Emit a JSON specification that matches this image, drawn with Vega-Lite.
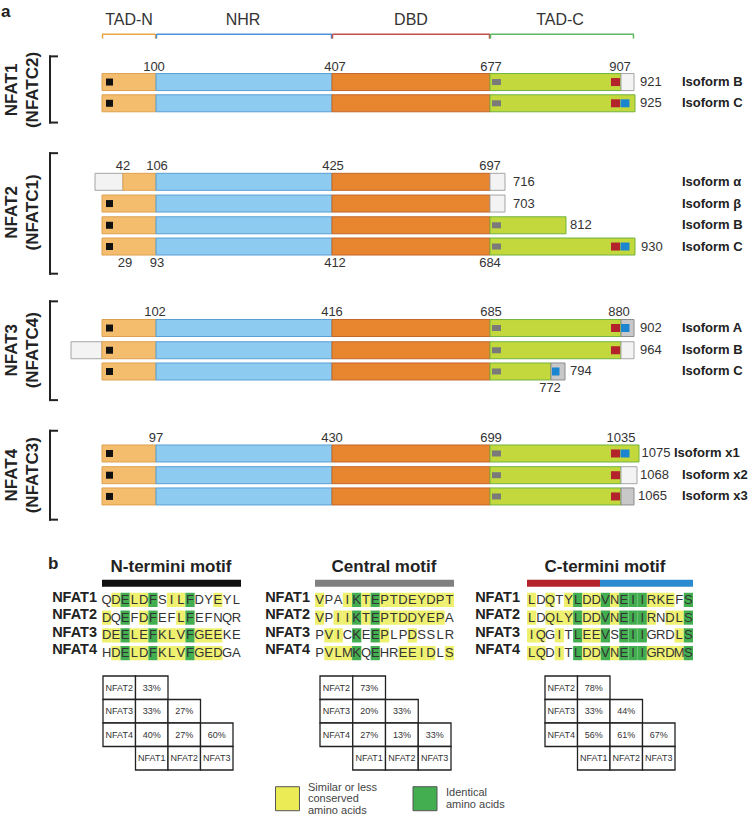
{
"$schema": "https://vega.github.io/schema/vega-lite/v6.json",
"width": 750, "height": 821, "padding": 0, "autosize": {"type": "none"},
"background": "white",
"config": {"view": {"stroke": null}, "axis": {"disable": true}, "legend": {"disable": true}, "text": {"font": "Liberation Sans, Arial, sans-serif", "color": "#222"}},
"datasets": {
"hdr": [{"t":"TAD-N","x":129,"y":15},{"t":"NHR","x":243,"y":15},{"t":"DBD","x":411,"y":15},{"t":"TAD-C","x":560,"y":15}],
"hline": [{"x":102,"xe":155.5,"y":29.5,"c":"o"},{"x":156.5,"xe":332,"y":29.5,"c":"b"},{"x":332.5,"xe":490,"y":29.5,"c":"r"},{"x":490.5,"xe":634,"y":29.5,"c":"g"}],
"htick": [{"x":102.5,"y":29.5,"ye":34,"c":"o"},{"x":155.5,"y":29.5,"ye":34,"c":"o"},{"x":156.5,"y":29.5,"ye":34,"c":"b"},{"x":331.5,"y":29.5,"ye":34,"c":"b"},{"x":332.5,"y":29.5,"ye":34,"c":"r"},{"x":489.5,"y":29.5,"ye":34,"c":"r"},{"x":490.5,"y":29.5,"ye":34,"c":"g"},{"x":633.5,"y":29.5,"ye":34,"c":"g"}],
"segs": [
{"iso":"NFAT1 B","y":78,"s":"TN","x":102,"xe":156},{"iso":"NFAT1 B","y":78,"s":"NHR","x":156,"xe":332},{"iso":"NFAT1 B","y":78,"s":"DBD","x":332,"xe":490},{"iso":"NFAT1 B","y":78,"s":"TC","x":490,"xe":621},{"iso":"NFAT1 B","y":78,"s":"W","x":621,"xe":634},
{"iso":"NFAT1 C","y":99.5,"s":"TN","x":102,"xe":156},{"iso":"NFAT1 C","y":99.5,"s":"NHR","x":156,"xe":332},{"iso":"NFAT1 C","y":99.5,"s":"DBD","x":332,"xe":490},{"iso":"NFAT1 C","y":99.5,"s":"TC","x":490,"xe":635},
{"iso":"NFAT2 a","y":179,"s":"W","x":95,"xe":123},{"iso":"NFAT2 a","y":179,"s":"TN","x":123,"xe":156},{"iso":"NFAT2 a","y":179,"s":"NHR","x":156,"xe":332},{"iso":"NFAT2 a","y":179,"s":"DBD","x":332,"xe":490},{"iso":"NFAT2 a","y":179,"s":"W","x":490,"xe":505},
{"iso":"NFAT2 b","y":201,"s":"TN","x":102,"xe":156},{"iso":"NFAT2 b","y":201,"s":"NHR","x":156,"xe":332},{"iso":"NFAT2 b","y":201,"s":"DBD","x":332,"xe":490},{"iso":"NFAT2 b","y":201,"s":"W","x":490,"xe":505},
{"iso":"NFAT2 B","y":223,"s":"TN","x":102,"xe":156},{"iso":"NFAT2 B","y":223,"s":"NHR","x":156,"xe":332},{"iso":"NFAT2 B","y":223,"s":"DBD","x":332,"xe":490},{"iso":"NFAT2 B","y":223,"s":"TC","x":490,"xe":566},
{"iso":"NFAT2 C","y":244.5,"s":"TN","x":102,"xe":156},{"iso":"NFAT2 C","y":244.5,"s":"NHR","x":156,"xe":332},{"iso":"NFAT2 C","y":244.5,"s":"DBD","x":332,"xe":490},{"iso":"NFAT2 C","y":244.5,"s":"TC","x":490,"xe":635},
{"iso":"NFAT3 A","y":327,"s":"TN","x":102,"xe":156},{"iso":"NFAT3 A","y":327,"s":"NHR","x":156,"xe":332},{"iso":"NFAT3 A","y":327,"s":"DBD","x":332,"xe":490},{"iso":"NFAT3 A","y":327,"s":"TC","x":490,"xe":621},{"iso":"NFAT3 A","y":327,"s":"G","x":621,"xe":634},
{"iso":"NFAT3 B","y":349.5,"s":"W","x":71,"xe":102},{"iso":"NFAT3 B","y":349.5,"s":"TN","x":102,"xe":156},{"iso":"NFAT3 B","y":349.5,"s":"NHR","x":156,"xe":332},{"iso":"NFAT3 B","y":349.5,"s":"DBD","x":332,"xe":490},{"iso":"NFAT3 B","y":349.5,"s":"TC","x":490,"xe":621},{"iso":"NFAT3 B","y":349.5,"s":"W","x":621,"xe":634},
{"iso":"NFAT3 C","y":371,"s":"TN","x":102,"xe":156},{"iso":"NFAT3 C","y":371,"s":"NHR","x":156,"xe":332},{"iso":"NFAT3 C","y":371,"s":"DBD","x":332,"xe":490},{"iso":"NFAT3 C","y":371,"s":"TC","x":490,"xe":551},{"iso":"NFAT3 C","y":371,"s":"G","x":551,"xe":565},
{"iso":"NFAT4 x1","y":454,"s":"TN","x":102,"xe":156},{"iso":"NFAT4 x1","y":454,"s":"NHR","x":156,"xe":332},{"iso":"NFAT4 x1","y":454,"s":"DBD","x":332,"xe":490},{"iso":"NFAT4 x1","y":454,"s":"TC","x":490,"xe":639},
{"iso":"NFAT4 x2","y":476,"s":"TN","x":102,"xe":156},{"iso":"NFAT4 x2","y":476,"s":"NHR","x":156,"xe":332},{"iso":"NFAT4 x2","y":476,"s":"DBD","x":332,"xe":490},{"iso":"NFAT4 x2","y":476,"s":"TC","x":490,"xe":621},{"iso":"NFAT4 x2","y":476,"s":"W","x":621,"xe":637},
{"iso":"NFAT4 x3","y":497.5,"s":"TN","x":102,"xe":156},{"iso":"NFAT4 x3","y":497.5,"s":"NHR","x":156,"xe":332},{"iso":"NFAT4 x3","y":497.5,"s":"DBD","x":332,"xe":490},{"iso":"NFAT4 x3","y":497.5,"s":"TC","x":490,"xe":621},{"iso":"NFAT4 x3","y":497.5,"s":"G","x":621,"xe":634}
],
"sq": [
{"k":"black","y":78,"x":106,"xe":113},{"k":"black","y":99.5,"x":106,"xe":113},{"k":"black","y":201,"x":106,"xe":113},{"k":"black","y":223,"x":106,"xe":113},{"k":"black","y":244.5,"x":106,"xe":113},{"k":"black","y":327,"x":106,"xe":113},{"k":"black","y":349.5,"x":106,"xe":113},{"k":"black","y":371,"x":106,"xe":113},{"k":"black","y":454,"x":106,"xe":113},{"k":"black","y":476,"x":106,"xe":113},{"k":"black","y":497.5,"x":106,"xe":113},
{"k":"gray","y":78,"x":492,"xe":501},{"k":"gray","y":99.5,"x":492,"xe":501},{"k":"gray","y":223,"x":492,"xe":501},{"k":"gray","y":244.5,"x":492,"xe":501},{"k":"gray","y":327,"x":492,"xe":501},{"k":"gray","y":349.5,"x":492,"xe":501},{"k":"gray","y":371,"x":492,"xe":501},{"k":"gray","y":454,"x":492,"xe":501},{"k":"gray","y":476,"x":492,"xe":501},{"k":"gray","y":497.5,"x":492,"xe":501},
{"k":"red","y":78,"x":611,"xe":620},{"k":"red","y":99.5,"x":611,"xe":620},{"k":"red","y":244.5,"x":611,"xe":620},{"k":"red","y":327,"x":611,"xe":620},{"k":"red","y":349.5,"x":611,"xe":620},{"k":"red","y":454,"x":611,"xe":620},{"k":"red","y":476,"x":611,"xe":620},{"k":"red","y":497.5,"x":611,"xe":620},
{"k":"blue","y":99.5,"x":620.5,"xe":629.5},{"k":"blue","y":244.5,"x":620.5,"xe":629.5},{"k":"blue","y":327,"x":621,"xe":629.5},{"k":"blue","y":454,"x":620.5,"xe":629.5},{"k":"blue","y":371,"x":552,"xe":559.5}
],
"num": [
{"t":"100","x":154,"y":63},{"t":"407","x":335,"y":63},{"t":"677","x":491,"y":63},{"t":"907","x":620,"y":63},
{"t":"42","x":123,"y":163},{"t":"106","x":157,"y":163},{"t":"425","x":333,"y":163},{"t":"697","x":490,"y":163},
{"t":"29","x":125,"y":261},{"t":"93","x":157,"y":261},{"t":"412","x":335,"y":261},{"t":"684","x":490,"y":261},
{"t":"102","x":155,"y":311},{"t":"416","x":332,"y":311},{"t":"685","x":491,"y":311},{"t":"880","x":619,"y":311},{"t":"772","x":550,"y":387.5},
{"t":"97","x":156,"y":438},{"t":"430","x":332,"y":438},{"t":"699","x":491,"y":438},{"t":"1035","x":621,"y":438}
],
"endl": [
{"t":"921","x":640,"y":78},{"t":"925","x":640,"y":99.5},{"t":"716","x":513,"y":179},{"t":"703","x":513,"y":201},{"t":"812","x":570,"y":223},{"t":"930","x":641,"y":244.5},
{"t":"902","x":640,"y":327},{"t":"964","x":640,"y":349.5},{"t":"794","x":570,"y":371},{"t":"1075","x":641.5,"y":454},{"t":"1068","x":640,"y":476},{"t":"1065","x":638,"y":497.5}
],
"isol": [
{"t":"Isoform B","x":682,"y":78},{"t":"Isoform C","x":682,"y":99.5},{"t":"Isoform α","x":682,"y":179},{"t":"Isoform β","x":682,"y":201},{"t":"Isoform B","x":682,"y":223},{"t":"Isoform C","x":682,"y":244.5},
{"t":"Isoform A","x":682,"y":327},{"t":"Isoform B","x":682,"y":349.5},{"t":"Isoform C","x":682,"y":371},{"t":"Isoform x1","x":674,"y":454},{"t":"Isoform x2","x":682,"y":476},{"t":"Isoform x3","x":682,"y":497.5}
],
"grp": [
{"t":"NFAT1","x":12,"y":86},{"t":"(NFATC2)","x":33,"y":86},
{"t":"NFAT2","x":12,"y":210},{"t":"(NFATC1)","x":33,"y":210},
{"t":"NFAT3","x":12,"y":349.5},{"t":"(NFATC4)","x":33,"y":349.5},
{"t":"NFAT4","x":12,"y":476},{"t":"(NFATC3)","x":33,"y":476}
],
"brv": [{"x":50,"y":51,"ye":120},{"x":50,"y":149,"ye":273},{"x":50,"y":299,"ye":401},{"x":50,"y":430,"ye":522}],
"brh": [{"x":49,"xe":58,"y":52},{"x":49,"xe":58,"y":119},{"x":49,"xe":58,"y":150},{"x":49,"xe":58,"y":272},{"x":49,"xe":58,"y":300},{"x":49,"xe":58,"y":400},{"x":49,"xe":58,"y":431},{"x":49,"xe":58,"y":521}],
"panel": [{"t":"a","x":1,"y":12},{"t":"b","x":48,"y":571}],
"ttl": [{"t":"N-termini motif","x":171,"y":574},{"t":"Central motif","x":384,"y":574},{"t":"C-termini motif","x":605,"y":574}],
"tbar": [{"x":102,"xe":241,"y":585.5,"c":"k"},{"x":315,"xe":454,"y":585.5,"c":"gr"},{"x":527,"xe":600,"y":585.5,"c":"r"},{"x":600,"xe":693,"y":585.5,"c":"b"}],
"rl": [
{"t":"NFAT1","x":97,"y":600},{"t":"NFAT2","x":97,"y":617.7},{"t":"NFAT3","x":97,"y":635.4},{"t":"NFAT4","x":97,"y":653.1},
{"t":"NFAT1","x":310,"y":600},{"t":"NFAT2","x":310,"y":617.7},{"t":"NFAT3","x":310,"y":635.4},{"t":"NFAT4","x":310,"y":653.1},
{"t":"NFAT1","x":520,"y":600},{"t":"NFAT2","x":520,"y":617.7},{"t":"NFAT3","x":520,"y":635.4},{"t":"NFAT4","x":520,"y":653.1}
],
"lgsq": [{"k":"sim","x":287.5,"y":803.5},{"k":"id","x":425,"y":803.5}],
"lgt": [{"t":"Similar or less","x":308,"y":792.5},{"t":"conserved","x":308,"y":804},{"t":"amino acids","x":308,"y":815.5},{"t":"Identical","x":446,"y":798},{"t":"amino acids","x":446,"y":810}],
"seq": [
{"m":"N","p":"NFAT1","i":0,"a":"Q","c":"n"},{"m":"N","p":"NFAT1","i":1,"a":"D","c":"y"},{"m":"N","p":"NFAT1","i":2,"a":"E","c":"g"},{"m":"N","p":"NFAT1","i":3,"a":"L","c":"y"},{"m":"N","p":"NFAT1","i":4,"a":"D","c":"y"},{"m":"N","p":"NFAT1","i":5,"a":"F","c":"g"},{"m":"N","p":"NFAT1","i":6,"a":"S","c":"n"},{"m":"N","p":"NFAT1","i":7,"a":"I","c":"y"},{"m":"N","p":"NFAT1","i":8,"a":"L","c":"y"},{"m":"N","p":"NFAT1","i":9,"a":"F","c":"g"},{"m":"N","p":"NFAT1","i":10,"a":"D","c":"n"},{"m":"N","p":"NFAT1","i":11,"a":"Y","c":"n"},{"m":"N","p":"NFAT1","i":12,"a":"E","c":"y"},{"m":"N","p":"NFAT1","i":13,"a":"Y","c":"n"},{"m":"N","p":"NFAT1","i":14,"a":"L","c":"n"},
{"m":"N","p":"NFAT2","i":0,"a":"D","c":"y"},{"m":"N","p":"NFAT2","i":1,"a":"Q","c":"n"},{"m":"N","p":"NFAT2","i":2,"a":"E","c":"g"},{"m":"N","p":"NFAT2","i":3,"a":"F","c":"n"},{"m":"N","p":"NFAT2","i":4,"a":"D","c":"y"},{"m":"N","p":"NFAT2","i":5,"a":"F","c":"g"},{"m":"N","p":"NFAT2","i":6,"a":"E","c":"n"},{"m":"N","p":"NFAT2","i":7,"a":"F","c":"n"},{"m":"N","p":"NFAT2","i":8,"a":"L","c":"y"},{"m":"N","p":"NFAT2","i":9,"a":"F","c":"g"},{"m":"N","p":"NFAT2","i":10,"a":"E","c":"n"},{"m":"N","p":"NFAT2","i":11,"a":"F","c":"n"},{"m":"N","p":"NFAT2","i":12,"a":"N","c":"n"},{"m":"N","p":"NFAT2","i":13,"a":"Q","c":"n"},{"m":"N","p":"NFAT2","i":14,"a":"R","c":"n"},
{"m":"N","p":"NFAT3","i":0,"a":"D","c":"y"},{"m":"N","p":"NFAT3","i":1,"a":"E","c":"y"},{"m":"N","p":"NFAT3","i":2,"a":"E","c":"g"},{"m":"N","p":"NFAT3","i":3,"a":"L","c":"y"},{"m":"N","p":"NFAT3","i":4,"a":"E","c":"y"},{"m":"N","p":"NFAT3","i":5,"a":"F","c":"g"},{"m":"N","p":"NFAT3","i":6,"a":"K","c":"y"},{"m":"N","p":"NFAT3","i":7,"a":"L","c":"y"},{"m":"N","p":"NFAT3","i":8,"a":"V","c":"y"},{"m":"N","p":"NFAT3","i":9,"a":"F","c":"g"},{"m":"N","p":"NFAT3","i":10,"a":"G","c":"y"},{"m":"N","p":"NFAT3","i":11,"a":"E","c":"y"},{"m":"N","p":"NFAT3","i":12,"a":"E","c":"y"},{"m":"N","p":"NFAT3","i":13,"a":"K","c":"n"},{"m":"N","p":"NFAT3","i":14,"a":"E","c":"n"},
{"m":"N","p":"NFAT4","i":0,"a":"H","c":"n"},{"m":"N","p":"NFAT4","i":1,"a":"D","c":"y"},{"m":"N","p":"NFAT4","i":2,"a":"E","c":"g"},{"m":"N","p":"NFAT4","i":3,"a":"L","c":"y"},{"m":"N","p":"NFAT4","i":4,"a":"D","c":"y"},{"m":"N","p":"NFAT4","i":5,"a":"F","c":"g"},{"m":"N","p":"NFAT4","i":6,"a":"K","c":"y"},{"m":"N","p":"NFAT4","i":7,"a":"L","c":"y"},{"m":"N","p":"NFAT4","i":8,"a":"V","c":"y"},{"m":"N","p":"NFAT4","i":9,"a":"F","c":"g"},{"m":"N","p":"NFAT4","i":10,"a":"G","c":"y"},{"m":"N","p":"NFAT4","i":11,"a":"E","c":"y"},{"m":"N","p":"NFAT4","i":12,"a":"D","c":"y"},{"m":"N","p":"NFAT4","i":13,"a":"G","c":"n"},{"m":"N","p":"NFAT4","i":14,"a":"A","c":"n"},
{"m":"M","p":"NFAT1","i":0,"a":"V","c":"y"},{"m":"M","p":"NFAT1","i":1,"a":"P","c":"n"},{"m":"M","p":"NFAT1","i":2,"a":"A","c":"n"},{"m":"M","p":"NFAT1","i":3,"a":"I","c":"y"},{"m":"M","p":"NFAT1","i":4,"a":"K","c":"g"},{"m":"M","p":"NFAT1","i":5,"a":"T","c":"y"},{"m":"M","p":"NFAT1","i":6,"a":"E","c":"g"},{"m":"M","p":"NFAT1","i":7,"a":"P","c":"y"},{"m":"M","p":"NFAT1","i":8,"a":"T","c":"y"},{"m":"M","p":"NFAT1","i":9,"a":"D","c":"y"},{"m":"M","p":"NFAT1","i":10,"a":"E","c":"y"},{"m":"M","p":"NFAT1","i":11,"a":"Y","c":"y"},{"m":"M","p":"NFAT1","i":12,"a":"D","c":"y"},{"m":"M","p":"NFAT1","i":13,"a":"P","c":"y"},{"m":"M","p":"NFAT1","i":14,"a":"T","c":"y"},
{"m":"M","p":"NFAT2","i":0,"a":"V","c":"y"},{"m":"M","p":"NFAT2","i":1,"a":"P","c":"n"},{"m":"M","p":"NFAT2","i":2,"a":"I","c":"y"},{"m":"M","p":"NFAT2","i":3,"a":"I","c":"y"},{"m":"M","p":"NFAT2","i":4,"a":"K","c":"g"},{"m":"M","p":"NFAT2","i":5,"a":"T","c":"y"},{"m":"M","p":"NFAT2","i":6,"a":"E","c":"g"},{"m":"M","p":"NFAT2","i":7,"a":"P","c":"y"},{"m":"M","p":"NFAT2","i":8,"a":"T","c":"y"},{"m":"M","p":"NFAT2","i":9,"a":"D","c":"y"},{"m":"M","p":"NFAT2","i":10,"a":"D","c":"y"},{"m":"M","p":"NFAT2","i":11,"a":"Y","c":"y"},{"m":"M","p":"NFAT2","i":12,"a":"E","c":"y"},{"m":"M","p":"NFAT2","i":13,"a":"P","c":"y"},{"m":"M","p":"NFAT2","i":14,"a":"A","c":"n"},
{"m":"M","p":"NFAT3","i":0,"a":"P","c":"n"},{"m":"M","p":"NFAT3","i":1,"a":"V","c":"y"},{"m":"M","p":"NFAT3","i":2,"a":"I","c":"y"},{"m":"M","p":"NFAT3","i":3,"a":"C","c":"n"},{"m":"M","p":"NFAT3","i":4,"a":"K","c":"g"},{"m":"M","p":"NFAT3","i":5,"a":"E","c":"n"},{"m":"M","p":"NFAT3","i":6,"a":"E","c":"g"},{"m":"M","p":"NFAT3","i":7,"a":"P","c":"y"},{"m":"M","p":"NFAT3","i":8,"a":"L","c":"n"},{"m":"M","p":"NFAT3","i":9,"a":"P","c":"n"},{"m":"M","p":"NFAT3","i":10,"a":"D","c":"y"},{"m":"M","p":"NFAT3","i":11,"a":"S","c":"n"},{"m":"M","p":"NFAT3","i":12,"a":"S","c":"n"},{"m":"M","p":"NFAT3","i":13,"a":"L","c":"n"},{"m":"M","p":"NFAT3","i":14,"a":"R","c":"n"},
{"m":"M","p":"NFAT4","i":0,"a":"P","c":"n"},{"m":"M","p":"NFAT4","i":1,"a":"V","c":"y"},{"m":"M","p":"NFAT4","i":2,"a":"L","c":"y"},{"m":"M","p":"NFAT4","i":3,"a":"M","c":"y"},{"m":"M","p":"NFAT4","i":4,"a":"K","c":"g"},{"m":"M","p":"NFAT4","i":5,"a":"Q","c":"n"},{"m":"M","p":"NFAT4","i":6,"a":"E","c":"g"},{"m":"M","p":"NFAT4","i":7,"a":"H","c":"n"},{"m":"M","p":"NFAT4","i":8,"a":"R","c":"n"},{"m":"M","p":"NFAT4","i":9,"a":"E","c":"y"},{"m":"M","p":"NFAT4","i":10,"a":"E","c":"y"},{"m":"M","p":"NFAT4","i":11,"a":"I","c":"y"},{"m":"M","p":"NFAT4","i":12,"a":"D","c":"y"},{"m":"M","p":"NFAT4","i":13,"a":"L","c":"n"},{"m":"M","p":"NFAT4","i":14,"a":"S","c":"y"},
{"m":"C","p":"NFAT1","i":0,"a":"L","c":"y"},{"m":"C","p":"NFAT1","i":1,"a":"D","c":"n"},{"m":"C","p":"NFAT1","i":2,"a":"Q","c":"y"},{"m":"C","p":"NFAT1","i":3,"a":"T","c":"n"},{"m":"C","p":"NFAT1","i":4,"a":"Y","c":"y"},{"m":"C","p":"NFAT1","i":5,"a":"L","c":"g"},{"m":"C","p":"NFAT1","i":6,"a":"D","c":"y"},{"m":"C","p":"NFAT1","i":7,"a":"D","c":"y"},{"m":"C","p":"NFAT1","i":8,"a":"V","c":"g"},{"m":"C","p":"NFAT1","i":9,"a":"N","c":"y"},{"m":"C","p":"NFAT1","i":10,"a":"E","c":"g"},{"m":"C","p":"NFAT1","i":11,"a":"I","c":"g"},{"m":"C","p":"NFAT1","i":12,"a":"I","c":"g"},{"m":"C","p":"NFAT1","i":13,"a":"R","c":"y"},{"m":"C","p":"NFAT1","i":14,"a":"K","c":"y"},{"m":"C","p":"NFAT1","i":15,"a":"E","c":"y"},{"m":"C","p":"NFAT1","i":16,"a":"F","c":"n"},{"m":"C","p":"NFAT1","i":17,"a":"S","c":"g"},
{"m":"C","p":"NFAT2","i":0,"a":"L","c":"y"},{"m":"C","p":"NFAT2","i":1,"a":"D","c":"n"},{"m":"C","p":"NFAT2","i":2,"a":"Q","c":"y"},{"m":"C","p":"NFAT2","i":3,"a":"L","c":"y"},{"m":"C","p":"NFAT2","i":4,"a":"Y","c":"y"},{"m":"C","p":"NFAT2","i":5,"a":"L","c":"g"},{"m":"C","p":"NFAT2","i":6,"a":"D","c":"y"},{"m":"C","p":"NFAT2","i":7,"a":"D","c":"y"},{"m":"C","p":"NFAT2","i":8,"a":"V","c":"g"},{"m":"C","p":"NFAT2","i":9,"a":"N","c":"y"},{"m":"C","p":"NFAT2","i":10,"a":"E","c":"g"},{"m":"C","p":"NFAT2","i":11,"a":"I","c":"g"},{"m":"C","p":"NFAT2","i":12,"a":"I","c":"g"},{"m":"C","p":"NFAT2","i":13,"a":"R","c":"y"},{"m":"C","p":"NFAT2","i":14,"a":"N","c":"n"},{"m":"C","p":"NFAT2","i":15,"a":"D","c":"y"},{"m":"C","p":"NFAT2","i":16,"a":"L","c":"y"},{"m":"C","p":"NFAT2","i":17,"a":"S","c":"g"},
{"m":"C","p":"NFAT3","i":0,"a":"I","c":"y"},{"m":"C","p":"NFAT3","i":1,"a":"Q","c":"y"},{"m":"C","p":"NFAT3","i":2,"a":"G","c":"n"},{"m":"C","p":"NFAT3","i":3,"a":"I","c":"y"},{"m":"C","p":"NFAT3","i":4,"a":"T","c":"n"},{"m":"C","p":"NFAT3","i":5,"a":"L","c":"g"},{"m":"C","p":"NFAT3","i":6,"a":"E","c":"y"},{"m":"C","p":"NFAT3","i":7,"a":"E","c":"y"},{"m":"C","p":"NFAT3","i":8,"a":"V","c":"g"},{"m":"C","p":"NFAT3","i":9,"a":"S","c":"n"},{"m":"C","p":"NFAT3","i":10,"a":"E","c":"g"},{"m":"C","p":"NFAT3","i":11,"a":"I","c":"g"},{"m":"C","p":"NFAT3","i":12,"a":"I","c":"g"},{"m":"C","p":"NFAT3","i":13,"a":"G","c":"n"},{"m":"C","p":"NFAT3","i":14,"a":"R","c":"n"},{"m":"C","p":"NFAT3","i":15,"a":"D","c":"n"},{"m":"C","p":"NFAT3","i":16,"a":"L","c":"y"},{"m":"C","p":"NFAT3","i":17,"a":"S","c":"g"},
{"m":"C","p":"NFAT4","i":0,"a":"L","c":"y"},{"m":"C","p":"NFAT4","i":1,"a":"Q","c":"y"},{"m":"C","p":"NFAT4","i":2,"a":"D","c":"n"},{"m":"C","p":"NFAT4","i":3,"a":"I","c":"y"},{"m":"C","p":"NFAT4","i":4,"a":"T","c":"n"},{"m":"C","p":"NFAT4","i":5,"a":"L","c":"g"},{"m":"C","p":"NFAT4","i":6,"a":"D","c":"y"},{"m":"C","p":"NFAT4","i":7,"a":"D","c":"y"},{"m":"C","p":"NFAT4","i":8,"a":"V","c":"g"},{"m":"C","p":"NFAT4","i":9,"a":"N","c":"y"},{"m":"C","p":"NFAT4","i":10,"a":"E","c":"g"},{"m":"C","p":"NFAT4","i":11,"a":"I","c":"g"},{"m":"C","p":"NFAT4","i":12,"a":"I","c":"g"},{"m":"C","p":"NFAT4","i":13,"a":"G","c":"y"},{"m":"C","p":"NFAT4","i":14,"a":"R","c":"y"},{"m":"C","p":"NFAT4","i":15,"a":"D","c":"y"},{"m":"C","p":"NFAT4","i":16,"a":"M","c":"y"},{"m":"C","p":"NFAT4","i":17,"a":"S","c":"g"}
],
"tbl": [
{"m":"N","r":"NFAT2","c":"h","t":"NFAT2"},{"m":"N","r":"NFAT2","c":"NFAT1","t":"33%"},
{"m":"N","r":"NFAT3","c":"h","t":"NFAT3"},{"m":"N","r":"NFAT3","c":"NFAT1","t":"33%"},{"m":"N","r":"NFAT3","c":"NFAT2","t":"27%"},
{"m":"N","r":"NFAT4","c":"h","t":"NFAT4"},{"m":"N","r":"NFAT4","c":"NFAT1","t":"40%"},{"m":"N","r":"NFAT4","c":"NFAT2","t":"27%"},{"m":"N","r":"NFAT4","c":"NFAT3","t":"60%"},
{"m":"N","r":"f","c":"NFAT1","t":"NFAT1"},{"m":"N","r":"f","c":"NFAT2","t":"NFAT2"},{"m":"N","r":"f","c":"NFAT3","t":"NFAT3"},
{"m":"M","r":"NFAT2","c":"h","t":"NFAT2"},{"m":"M","r":"NFAT2","c":"NFAT1","t":"73%"},
{"m":"M","r":"NFAT3","c":"h","t":"NFAT3"},{"m":"M","r":"NFAT3","c":"NFAT1","t":"20%"},{"m":"M","r":"NFAT3","c":"NFAT2","t":"33%"},
{"m":"M","r":"NFAT4","c":"h","t":"NFAT4"},{"m":"M","r":"NFAT4","c":"NFAT1","t":"27%"},{"m":"M","r":"NFAT4","c":"NFAT2","t":"13%"},{"m":"M","r":"NFAT4","c":"NFAT3","t":"33%"},
{"m":"M","r":"f","c":"NFAT1","t":"NFAT1"},{"m":"M","r":"f","c":"NFAT2","t":"NFAT2"},{"m":"M","r":"f","c":"NFAT3","t":"NFAT3"},
{"m":"C","r":"NFAT2","c":"h","t":"NFAT2"},{"m":"C","r":"NFAT2","c":"NFAT1","t":"78%"},
{"m":"C","r":"NFAT3","c":"h","t":"NFAT3"},{"m":"C","r":"NFAT3","c":"NFAT1","t":"33%"},{"m":"C","r":"NFAT3","c":"NFAT2","t":"44%"},
{"m":"C","r":"NFAT4","c":"h","t":"NFAT4"},{"m":"C","r":"NFAT4","c":"NFAT1","t":"56%"},{"m":"C","r":"NFAT4","c":"NFAT2","t":"61%"},{"m":"C","r":"NFAT4","c":"NFAT3","t":"67%"},
{"m":"C","r":"f","c":"NFAT1","t":"NFAT1"},{"m":"C","r":"f","c":"NFAT2","t":"NFAT2"},{"m":"C","r":"f","c":"NFAT3","t":"NFAT3"}
]
},
"resolve": {"scale": {"x": "independent", "y": "independent", "color": "independent", "fill": "independent", "stroke": "independent"}},
"layer": [
{
 "encoding": {
  "x": {"field": "x", "type": "quantitative", "scale": {"domain": [0, 750], "range": [0, 750], "nice": false, "zero": false}},
  "y": {"field": "y", "type": "quantitative", "scale": {"domain": [0, 821], "range": [0, 821], "nice": false, "zero": false}}
 },
 "resolve": {"scale": {"color": "independent", "fill": "independent", "stroke": "independent"}},
 "layer": [
  {"data": {"name": "hdr"}, "mark": {"type": "text", "fontSize": 16, "color": "#333", "baseline": "middle"}, "encoding": {"text": {"field": "t"}}},
  {"data": {"name": "hline"}, "mark": {"type": "rule", "strokeWidth": 1.5}, "encoding": {"x2": {"field": "xe"}, "color": {"field": "c", "type": "nominal", "scale": {"domain": ["o", "b", "r", "g"], "range": ["#E9A445", "#4C92D6", "#C0504D", "#5DB85E"]}}}},
  {"data": {"name": "htick"}, "mark": {"type": "rule", "strokeWidth": 1.5}, "encoding": {"y2": {"field": "ye"}, "color": {"field": "c", "type": "nominal", "scale": {"domain": ["o", "b", "r", "g"], "range": ["#E9A445", "#4C92D6", "#C0504D", "#5DB85E"]}}}},
  {"data": {"name": "segs"}, "mark": {"type": "bar", "height": 17, "strokeWidth": 1}, "encoding": {"x2": {"field": "xe"},
    "fill": {"field": "s", "type": "nominal", "scale": {"domain": ["TN", "NHR", "DBD", "TC", "W", "G"], "range": ["#F4BD6E", "#8DCBF1", "#E8862F", "#C2D83C", "#F3F3F3", "#C8C8C8"]}},
    "stroke": {"field": "s", "type": "nominal", "scale": {"domain": ["TN", "NHR", "DBD", "TC", "W", "G"], "range": ["#DDA050", "#5A9FD4", "#C4662A", "#72B33E", "#A5A5A5", "#8C8C8C"]}}}},
  {"data": {"name": "sq"}, "transform": [{"filter": "datum.k == 'black'"}], "mark": {"type": "bar", "height": 7, "color": "#111"}, "encoding": {"x2": {"field": "xe"}}},
  {"data": {"name": "sq"}, "transform": [{"filter": "datum.k == 'gray'"}], "mark": {"type": "bar", "height": 6, "color": "#7A7A7A"}, "encoding": {"x2": {"field": "xe"}}},
  {"data": {"name": "sq"}, "transform": [{"filter": "datum.k == 'red' || datum.k == 'blue'"}], "mark": {"type": "bar", "height": 8}, "encoding": {"x2": {"field": "xe"}, "color": {"field": "k", "type": "nominal", "scale": {"domain": ["red", "blue"], "range": ["#B3232B", "#1B86CF"]}}}},
  {"data": {"name": "num"}, "mark": {"type": "text", "fontSize": 13, "color": "#333", "baseline": "middle", "align": "center"}, "encoding": {"text": {"field": "t"}}},
  {"data": {"name": "endl"}, "mark": {"type": "text", "fontSize": 13, "color": "#333", "baseline": "middle", "align": "left"}, "encoding": {"text": {"field": "t"}}},
  {"data": {"name": "isol"}, "mark": {"type": "text", "fontSize": 13, "fontWeight": "bold", "color": "#222", "baseline": "middle", "align": "left"}, "encoding": {"text": {"field": "t"}}},
  {"data": {"name": "grp"}, "mark": {"type": "text", "fontSize": 17, "fontWeight": "bold", "color": "#222", "angle": 270, "baseline": "middle", "align": "center"}, "encoding": {"text": {"field": "t"}}},
  {"data": {"name": "brv"}, "mark": {"type": "rule", "strokeWidth": 2, "color": "#222"}, "encoding": {"y2": {"field": "ye"}}},
  {"data": {"name": "brh"}, "mark": {"type": "rule", "strokeWidth": 2, "color": "#222"}, "encoding": {"x2": {"field": "xe"}}},
  {"data": {"name": "panel"}, "mark": {"type": "text", "fontSize": 17, "fontWeight": "bold", "color": "#222", "baseline": "alphabetic", "align": "left"}, "encoding": {"text": {"field": "t"}}},
  {"data": {"name": "ttl"}, "mark": {"type": "text", "fontSize": 17, "fontWeight": "bold", "color": "#222", "baseline": "alphabetic", "align": "center"}, "encoding": {"text": {"field": "t"}}},
  {"data": {"name": "tbar"}, "mark": {"type": "bar", "height": 7}, "encoding": {"x2": {"field": "xe"}, "color": {"field": "c", "type": "nominal", "scale": {"domain": ["k", "gr", "r", "b"], "range": ["#111111", "#808080", "#B3232B", "#2C8BD0"]}}}},
  {"data": {"name": "rl"}, "mark": {"type": "text", "fontSize": 14.5, "fontWeight": "bold", "color": "#222", "baseline": "middle", "align": "right"}, "encoding": {"text": {"field": "t"}}},
  {"data": {"name": "lgsq"}, "mark": {"type": "point", "shape": "square", "filled": true, "size": 576, "stroke": "#555", "strokeWidth": 1, "opacity": 1}, "encoding": {"fill": {"field": "k", "type": "nominal", "scale": {"domain": ["sim", "id"], "range": ["#EBEB55", "#43AE50"]}}}},
  {"data": {"name": "lgt"}, "mark": {"type": "text", "fontSize": 11, "color": "#444", "baseline": "middle", "align": "left"}, "encoding": {"text": {"field": "t"}}}
 ]
},
{
 "data": {"name": "seq"}, "transform": [{"filter": "datum.m == 'N'"}],
 "encoding": {
  "x": {"field": "i", "type": "ordinal", "scale": {"type": "band", "domain": [0,1,2,3,4,5,6,7,8,9,10,11,12,13,14], "range": [102, 241], "paddingInner": 0, "paddingOuter": 0}},
  "y": {"field": "p", "type": "nominal", "scale": {"type": "band", "domain": ["NFAT1", "NFAT2", "NFAT3", "NFAT4"], "range": [591, 662], "paddingInner": 0.2, "paddingOuter": 0.1}}
 },
 "layer": [
  {"transform": [{"filter": "datum.c != 'n'"}], "mark": {"type": "rect"}, "encoding": {"color": {"field": "c", "type": "nominal", "scale": {"domain": ["y", "g"], "range": ["#EEF06E", "#43AE50"]}}}},
  {"mark": {"type": "text", "fontSize": 13, "color": "#333", "baseline": "middle"}, "encoding": {"text": {"field": "a"}}}
 ]
},
{
 "data": {"name": "seq"}, "transform": [{"filter": "datum.m == 'M'"}],
 "encoding": {
  "x": {"field": "i", "type": "ordinal", "scale": {"type": "band", "domain": [0,1,2,3,4,5,6,7,8,9,10,11,12,13,14], "range": [315, 454], "paddingInner": 0, "paddingOuter": 0}},
  "y": {"field": "p", "type": "nominal", "scale": {"type": "band", "domain": ["NFAT1", "NFAT2", "NFAT3", "NFAT4"], "range": [591, 662], "paddingInner": 0.2, "paddingOuter": 0.1}}
 },
 "layer": [
  {"transform": [{"filter": "datum.c != 'n'"}], "mark": {"type": "rect"}, "encoding": {"color": {"field": "c", "type": "nominal", "scale": {"domain": ["y", "g"], "range": ["#EEF06E", "#43AE50"]}}}},
  {"mark": {"type": "text", "fontSize": 13, "color": "#333", "baseline": "middle"}, "encoding": {"text": {"field": "a"}}}
 ]
},
{
 "data": {"name": "seq"}, "transform": [{"filter": "datum.m == 'C'"}],
 "encoding": {
  "x": {"field": "i", "type": "ordinal", "scale": {"type": "band", "domain": [0,1,2,3,4,5,6,7,8,9,10,11,12,13,14,15,16,17], "range": [527, 693], "paddingInner": 0, "paddingOuter": 0}},
  "y": {"field": "p", "type": "nominal", "scale": {"type": "band", "domain": ["NFAT1", "NFAT2", "NFAT3", "NFAT4"], "range": [591, 662], "paddingInner": 0.2, "paddingOuter": 0.1}}
 },
 "layer": [
  {"transform": [{"filter": "datum.c != 'n'"}], "mark": {"type": "rect"}, "encoding": {"color": {"field": "c", "type": "nominal", "scale": {"domain": ["y", "g"], "range": ["#EEF06E", "#43AE50"]}}}},
  {"mark": {"type": "text", "fontSize": 13, "color": "#333", "baseline": "middle"}, "encoding": {"text": {"field": "a"}}}
 ]
},
{
 "data": {"name": "tbl"}, "transform": [{"filter": "datum.m == 'N'"}],
 "encoding": {
  "x": {"field": "c", "type": "nominal", "scale": {"type": "band", "domain": ["h", "NFAT1", "NFAT2", "NFAT3"], "range": [103, 233], "paddingInner": 0, "paddingOuter": 0}},
  "y": {"field": "r", "type": "nominal", "scale": {"type": "band", "domain": ["NFAT2", "NFAT3", "NFAT4", "f"], "range": [676, 770], "paddingInner": 0, "paddingOuter": 0}}
 },
 "layer": [
  {"mark": {"type": "rect", "fill": "white", "stroke": "#222", "strokeWidth": 1.3}},
  {"mark": {"type": "text", "fontSize": 9, "color": "#333", "baseline": "middle"}, "encoding": {"text": {"field": "t"}}}
 ]
},
{
 "data": {"name": "tbl"}, "transform": [{"filter": "datum.m == 'M'"}],
 "encoding": {
  "x": {"field": "c", "type": "nominal", "scale": {"type": "band", "domain": ["h", "NFAT1", "NFAT2", "NFAT3"], "range": [320, 451], "paddingInner": 0, "paddingOuter": 0}},
  "y": {"field": "r", "type": "nominal", "scale": {"type": "band", "domain": ["NFAT2", "NFAT3", "NFAT4", "f"], "range": [676, 770], "paddingInner": 0, "paddingOuter": 0}}
 },
 "layer": [
  {"mark": {"type": "rect", "fill": "white", "stroke": "#222", "strokeWidth": 1.3}},
  {"mark": {"type": "text", "fontSize": 9, "color": "#333", "baseline": "middle"}, "encoding": {"text": {"field": "t"}}}
 ]
},
{
 "data": {"name": "tbl"}, "transform": [{"filter": "datum.m == 'C'"}],
 "encoding": {
  "x": {"field": "c", "type": "nominal", "scale": {"type": "band", "domain": ["h", "NFAT1", "NFAT2", "NFAT3"], "range": [545, 675], "paddingInner": 0, "paddingOuter": 0}},
  "y": {"field": "r", "type": "nominal", "scale": {"type": "band", "domain": ["NFAT2", "NFAT3", "NFAT4", "f"], "range": [676, 770], "paddingInner": 0, "paddingOuter": 0}}
 },
 "layer": [
  {"mark": {"type": "rect", "fill": "white", "stroke": "#222", "strokeWidth": 1.3}},
  {"mark": {"type": "text", "fontSize": 9, "color": "#333", "baseline": "middle"}, "encoding": {"text": {"field": "t"}}}
 ]
}
]
}
